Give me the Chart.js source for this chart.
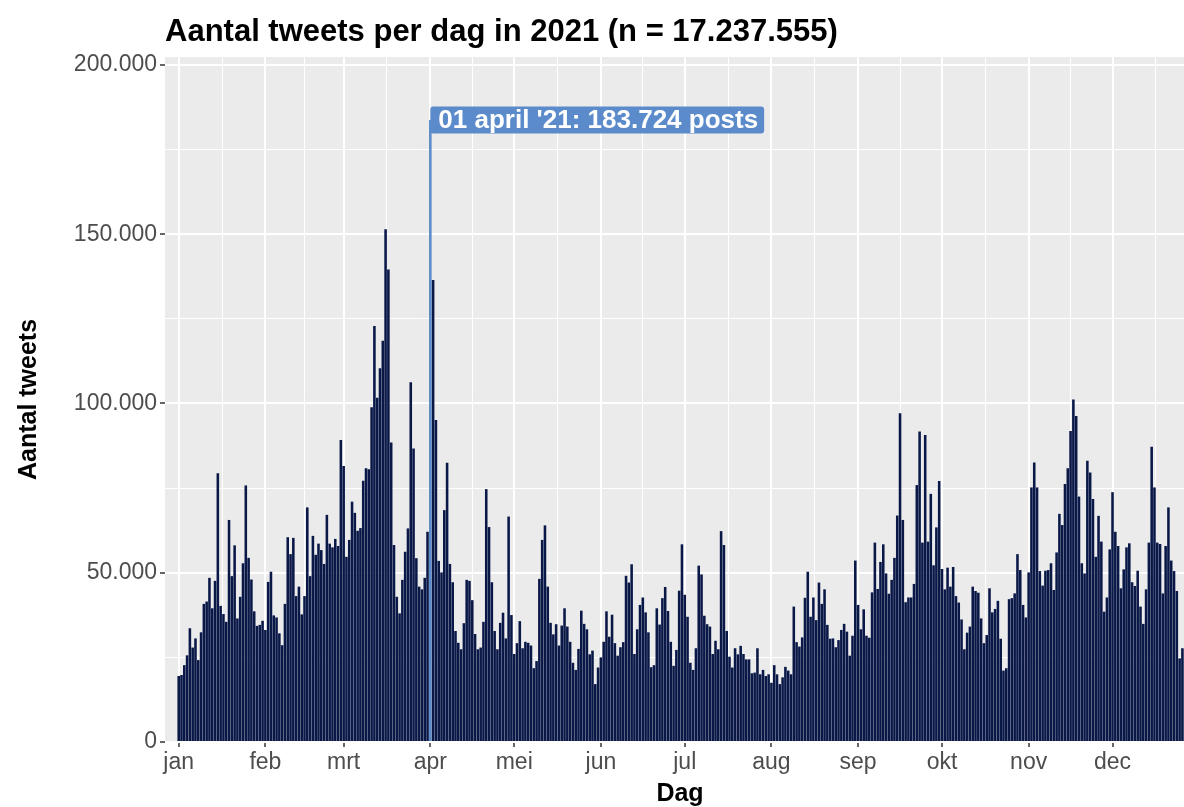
<!DOCTYPE html>
<html>
<head>
<meta charset="utf-8">
<script src="https://cdn.jsdelivr.net/npm/chart.js@4.4.1/dist/chart.umd.min.js"></script>
<style>
    html, body { margin: 0; padding: 0; overflow: hidden; background: #fff; }
    #wrap { width: 1196px; height: 807px; }
</style>
</head>
<body>
<div id="wrap"><canvas id="tweets-chart"></canvas></div>
<script>
// tweets per day, one array per month
const jan = [19500, 19800, 22700, 25600, 33600, 27900, 30600, 24200, 32400, 40800, 41500, 48500, 39500, 47600, 79400, 40200, 37800, 35500, 65600, 49000, 58100, 36500, 42900, 52800, 75800, 54400, 48000, 38600, 34300, 34600, 35800];
const feb = [33100, 47300, 50300, 37400, 36800, 32100, 28600, 40800, 60500, 55500, 60300, 43100, 45900, 37700, 43100, 69300, 49000, 60900, 55300, 58600, 56700, 52600, 67100, 58600, 57500, 60000, 57900, 89200];
const mrt = [81500, 54700, 59700, 71000, 67700, 62400, 63200, 77200, 80900, 80600, 98900, 122900, 101700, 110400, 118500, 151500, 139600, 88500, 58200, 42900, 38000, 47900, 56200, 63100, 106300, 86700, 54300, 45900, 45100, 48500, 62100];
const apr = [183724, 136500, 95100, 53500, 50100, 68500, 82500, 52600, 47200, 32800, 29300, 27400, 35100, 47900, 47600, 41900, 31900, 27400, 27900, 35500, 74700, 63500, 47200, 32800, 27400, 35200, 38200, 30600, 66600, 37500];
const mei = [26000, 29200, 35700, 27700, 29600, 29300, 28500, 21800, 23900, 48200, 59700, 64000, 45900, 35200, 31800, 34800, 28500, 34400, 39500, 34100, 29600, 23400, 21300, 27500, 38800, 34900, 33300, 25900, 27000, 17100, 22000];
const jun = [25000, 29600, 38600, 31100, 37600, 29200, 25500, 28000, 29500, 49100, 47100, 52500, 26000, 33300, 40500, 42700, 38300, 32400, 22100, 22700, 39500, 34700, 42500, 45800, 38700, 29600, 22500, 27200, 44700, 58400];
const jul = [43500, 37000, 23400, 21300, 27700, 52100, 49500, 37300, 34800, 34100, 26000, 29900, 27400, 62300, 58200, 32800, 25200, 22000, 27700, 25900, 28400, 26000, 24400, 24400, 20300, 20500, 27700, 20000, 21300, 19500, 20000];
const aug = [17500, 22700, 20000, 17100, 19100, 22200, 21100, 20000, 40000, 29500, 28200, 30900, 42600, 50300, 37000, 42700, 36000, 47100, 40800, 45100, 34600, 30500, 30600, 28000, 30100, 33100, 34900, 32600, 25500, 31400, 53600];
const sep = [40500, 33300, 39200, 31400, 30800, 44200, 58900, 45200, 53200, 58400, 49800, 43800, 47900, 54400, 66900, 97100, 65600, 41300, 42700, 42700, 46700, 75900, 91700, 58900, 90700, 59200, 73300, 52200, 63400, 77100];
const okt = [51100, 45100, 51500, 45900, 51700, 43100, 41200, 36200, 27400, 32300, 34100, 45900, 44600, 44100, 36500, 29200, 31600, 45400, 38300, 39300, 41700, 30500, 21100, 21800, 42200, 42500, 43900, 55500, 50800, 40500, 36800];
const nov = [50100, 75200, 82600, 75200, 50500, 46200, 50600, 50800, 52800, 44900, 56000, 67400, 64100, 76200, 80900, 91900, 101200, 96300, 72500, 52800, 49800, 83100, 79600, 71800, 54700, 66800, 59200, 38500, 42700, 56900];
// last days of december fall outside the picture, estimated
const dec = [73800, 62100, 57900, 45400, 51000, 57500, 58700, 47200, 46100, 50600, 40000, 34900, 45100, 58900, 87200, 75200, 58900, 58500, 43900, 57900, 69300, 53600, 50500, 44600, 24700, 27700, 26500, 31000, 33500, 29000, 26000];

const monthLabels = ['jan', 'feb', 'mrt', 'apr', 'mei', 'jun', 'jul', 'aug', 'sep', 'okt', 'nov', 'dec'];
const yTickValues = [0, 50000, 100000, 150000, 200000];
const titleText = 'Aantal tweets per dag in 2021 (n = 17.237.555)';
const peakLabel = "01 april '21: 183.724 posts";

const months = [jan, feb, mrt, apr, mei, jun, jul, aug, sep, okt, nov, dec];
const counts = months.flat();
const monthStarts = [];
months.reduce((acc, m) => { monthStarts.push(acc); return acc + m.length; }, 0);
const peakDay = counts.indexOf(Math.max(...counts));

// minor grid halfway between the month breaks (like ggplot)
const xMinor = monthStarts.map((d, i) => (d + (i < 11 ? monthStarts[i + 1] : counts.length)) / 2);
const xGrid = [...monthStarts, ...xMinor].sort((a, b) => a - b);
const yMinor = yTickValues.slice(0, -1).map((v, i) => (v + yTickValues[i + 1]) / 2);
const yGrid = [...yTickValues, ...yMinor].sort((a, b) => a - b);

const FONT = '"Liberation Sans", Arial, sans-serif';
const fmt = v => String(v).replace(/\B(?=(\d{3})+(?!\d))/g, '.');
const tickVal = c => (c && c.tick) ? c.tick.value : NaN;

const overlay = {
    id: 'overlay',
    afterDatasetsDraw(chart) {
        const { ctx, scales: { x, y } } = chart;
        const px = x.getPixelForValue(peakDay);
        const py = y.getPixelForValue(counts[peakDay]);
        ctx.save();
        ctx.font = `bold 26px ${FONT}`;
        const w = ctx.measureText(peakLabel).width + 14;
        const h = 27;
        ctx.fillStyle = '#5b8bca';
        ctx.beginPath();
        if (ctx.roundRect) ctx.roundRect(px, py - h / 2, w, h, 3);
        else ctx.rect(px, py - h / 2, w, h);
        ctx.fill();
        ctx.fillStyle = '#ffffff';
        ctx.textBaseline = 'middle';
        ctx.fillText(peakLabel, px + 8, py + 1);
        ctx.restore();
    },
    afterDraw(chart) {
        const { ctx } = chart;
        ctx.save();
        ctx.font = `bold 31px ${FONT}`;
        ctx.fillStyle = '#000000';
        ctx.textBaseline = 'middle';
        ctx.fillText(titleText, 165, 32);
        ctx.restore();
    }
};

const ctx = document.getElementById('tweets-chart').getContext('2d');
new Chart(ctx, {
    type: 'bar',
    data: {
        datasets: [{
            data: counts.map((v, i) => ({ x: i, y: v })),
            backgroundColor: counts.map((v, i) => i === peakDay ? '#5b8bca' : '#0a1848'),
            borderWidth: 0,
            barPercentage: 0.92,
            categoryPercentage: 1
        }]
    },
    options: {
        responsive: true, maintainAspectRatio: false, animation: false,
        layout: { padding: { top: 57, right: 1, left: 0, bottom: 0 } },
        plugins: { legend: { display: false }, tooltip: { enabled: false } },
        scales: {
            x: {
                type: 'linear', min: -4.9, max: 363.5, offset: false,
                afterBuildTicks: s => { s.ticks = xGrid.map(v => ({ value: v })); },
                afterFit: s => { s.height = 65; },
                ticks: {
                    autoSkip: false, maxRotation: 0, padding: 2, color: '#4d4d4d',
                    font: { family: FONT, size: 23 },
                    callback: v => { const i = monthStarts.indexOf(v); return i >= 0 ? monthLabels[i] : ''; }
                },
                grid: {
                    offset: false,
                    color: '#ffffff',
                    lineWidth: c => monthStarts.includes(tickVal(c)) ? 2 : 1,
                    tickLength: 5, tickWidth: 1.5,
                    tickColor: c => monthStarts.includes(tickVal(c)) ? '#333333' : 'rgba(0,0,0,0)'
                },
                border: { display: false },
                title: { display: true, text: 'Dag', color: '#000', font: { family: FONT, size: 25, weight: 'bold', lineHeight: 1 }, padding: { top: 0, bottom: 0 } }
            },
            y: {
                min: 0, max: 202360,
                afterBuildTicks: s => { s.ticks = yGrid.map(v => ({ value: v })); },
                afterFit: s => { s.width = 165; },
                ticks: {
                    autoSkip: false, padding: 3, color: '#4d4d4d',
                    font: { family: FONT, size: 23 },
                    callback: v => yTickValues.includes(v) ? fmt(v) : ''
                },
                grid: {
                    color: '#ffffff',
                    lineWidth: c => yTickValues.includes(tickVal(c)) ? 2 : 1,
                    tickLength: 5, tickWidth: 1.5,
                    tickColor: c => yTickValues.includes(tickVal(c)) ? '#333333' : 'rgba(0,0,0,0)'
                },
                border: { display: false },
                title: { display: true, text: 'Aantal tweets', color: '#000', font: { family: FONT, size: 25, weight: 'bold' }, padding: { top: 14, bottom: 0 } }
            }
        }
    },
    plugins: [
        { id: 'panelBg', beforeDraw: c => { const a = c.chartArea; c.ctx.save(); c.ctx.fillStyle = '#ebebeb'; c.ctx.fillRect(a.left, a.top, a.right - a.left, a.bottom - a.top); c.ctx.restore(); } },
        overlay
    ]
});
</script>
</body>
</html>
